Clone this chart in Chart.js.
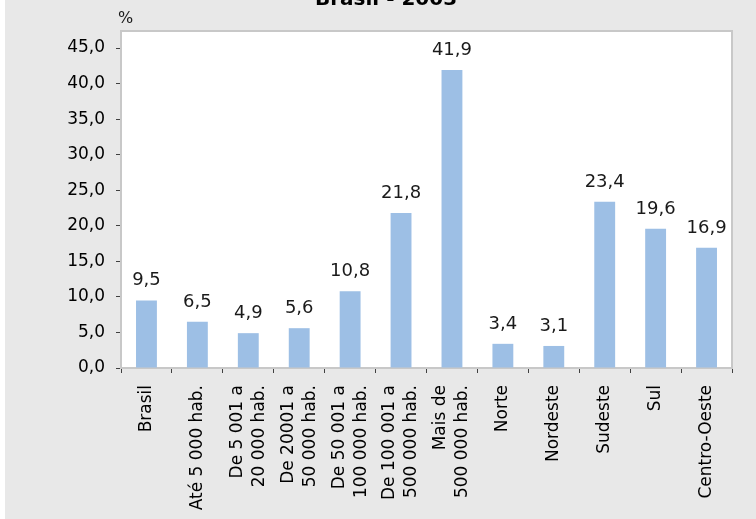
<!DOCTYPE html>
<html>
<head>
<meta charset="utf-8">
<script src="https://cdn.jsdelivr.net/npm/chart.js@4.4.1/dist/chart.umd.min.js"></script>
<style>
  html, body { margin: 0; padding: 0; background: #fff; overflow: hidden; }
  /* titulo fica meio cortado em cima, por isso o top negativo */
  #moldura { position: absolute; left: 5px; top: -14px; width: 751px; height: 533px; background: #e8e8e8; }
</style>
</head>
<body>
<div id="moldura"><canvas id="grafico" width="751" height="533"></canvas></div>
<script>
// categorias do eixo x (linhas quebradas viram arrays)
const categorias = [
  'Brasil',
  'Até 5 000 hab.',
  ['De 5 001 a', '20 000 hab.'],
  ['De 20001 a', '50 000 hab.'],
  ['De 50 001 a', '100 000 hab.'],
  ['De 100 001 a', '500 000 hab.'],
  ['Mais de', '500 000 hab.'],
  'Norte',
  'Nordeste',
  'Sudeste',
  'Sul',
  'Centro-Oeste'
]

// valores em %
const valores = [9.5, 6.5, 4.9, 5.6, 10.8, 21.8, 41.9, 3.4, 3.1, 23.4, 19.6, 16.9]

// marcas do eixo y
const marcasEixoY = [0, 5, 10, 15, 20, 25, 30, 35, 40, 45]
const maximoEixoY = 47.4

const tituloGrafico = 'Brasil - 2003'
const unidade = '%'

const corBarra = '#9dbfe5'
const corEixo = '#c8c8c8'
const corMarca = '#404040'

Chart.defaults.font.family = "'DejaVu Sans', sans-serif"

// numero com virgula
function formata(v) {
  return Number(v).toFixed(1).replace('.', ',')
}

// fundo branco da area do grafico + borda de cima e da direita
const areaBranca = {
  id: 'areaBranca',
  beforeDraw(chart) {
    const { ctx, chartArea: a } = chart
    ctx.save()
    ctx.fillStyle = '#fff'
    ctx.fillRect(a.left, a.top, a.right - a.left, a.bottom - a.top)
    ctx.restore()
  },
  afterDraw(chart) {
    const { ctx, chartArea: a } = chart
    ctx.save()
    ctx.strokeStyle = corEixo
    ctx.lineWidth = 2
    ctx.beginPath()
    ctx.moveTo(a.left, a.top)
    ctx.lineTo(a.right, a.top)
    ctx.lineTo(a.right, a.bottom)
    ctx.stroke()
    ctx.restore()
  }
}

// valores em cima das barras
const rotulosBarras = {
  id: 'rotulosBarras',
  afterDatasetsDraw(chart) {
    const ctx = chart.ctx
    ctx.save()
    ctx.font = "18px 'DejaVu Sans'"
    ctx.fillStyle = '#1a1a1a'
    ctx.textAlign = 'center'
    ctx.textBaseline = 'alphabetic'
    chart.getDatasetMeta(0).data.forEach((barra, i) => {
      ctx.fillText(formata(valores[i]), barra.x, barra.y - 15)
    })
    ctx.restore()
  }
}

// nomes das categorias em pe, com as duas linhas centradas na categoria
// (o chart.js joga a segunda linha pro lado quando gira o texto)
const nomesCategorias = {
  id: 'nomesCategorias',
  afterDraw(chart) {
    const { ctx, chartArea: a } = chart
    const escalaX = chart.scales.x
    const alturaLinha = 22
    ctx.save()
    ctx.font = "17px 'DejaVu Sans'"
    ctx.fillStyle = '#000'
    ctx.textAlign = 'right'
    ctx.textBaseline = 'middle'
    categorias.forEach((nome, i) => {
      const linhas = Array.isArray(nome) ? nome : [nome]
      const x = escalaX.getPixelForTick(i)
      linhas.forEach((linha, j) => {
        const desloc = (j - (linhas.length - 1) / 2) * alturaLinha
        ctx.save()
        ctx.translate(x + desloc, a.bottom + 5 + 12)
        ctx.rotate(-Math.PI / 2)
        ctx.fillText(linha, 0, 0)
        ctx.restore()
      })
    })
    ctx.restore()
  }
}

// o "%" em cima do eixo y
const textoUnidade = {
  id: 'textoUnidade',
  afterDraw(chart) {
    const { ctx, chartArea: a } = chart
    ctx.save()
    ctx.font = "16px 'DejaVu Sans'"
    ctx.fillStyle = '#1a1a1a'
    ctx.textAlign = 'left'
    ctx.textBaseline = 'alphabetic'
    ctx.fillText(unidade, a.left - 3, a.top - 8)
    ctx.restore()
  }
}

const grafico = new Chart(document.getElementById('grafico'), {
  type: 'bar',
  data: {
    labels: categorias,
    datasets: [
      {
        data: valores,
        backgroundColor: corBarra,
        borderWidth: 0,
        barPercentage: 0.41,
        categoryPercentage: 1
      }
    ]
  },
  options: {
    responsive: false,
    animation: false,
    layout: { padding: { left: 35, right: 24, top: 0, bottom: 0 } },
    plugins: {
      legend: { display: false },
      tooltip: { enabled: false },
      title: {
        display: true,
        text: tituloGrafico,
        color: '#000',
        font: { size: 20, weight: 'bold' },
        padding: { top: 2, bottom: 19 }
      }
    },
    scales: {
      x: {
        grid: { offset: true, drawOnChartArea: false, tickLength: 5, tickColor: corMarca },
        border: { color: corEixo, width: 2 },
        ticks: { display: false, autoSkip: false },
        afterFit(s) { s.height = 151 }
      },
      y: {
        min: 0,
        max: maximoEixoY,
        grid: { drawOnChartArea: false, tickLength: 5, tickColor: corMarca },
        border: { color: corEixo, width: 2 },
        ticks: {
          padding: 11,
          color: '#000',
          font: { size: 17 },
          callback: v => formata(v)
        },
        afterBuildTicks(s) { s.ticks = marcasEixoY.map(v => ({ value: v })) },
        afterFit(s) { s.width = 81 }
      }
    }
  },
  plugins: [areaBranca, rotulosBarras, nomesCategorias, textoUnidade]
})
</script>
</body>
</html>
